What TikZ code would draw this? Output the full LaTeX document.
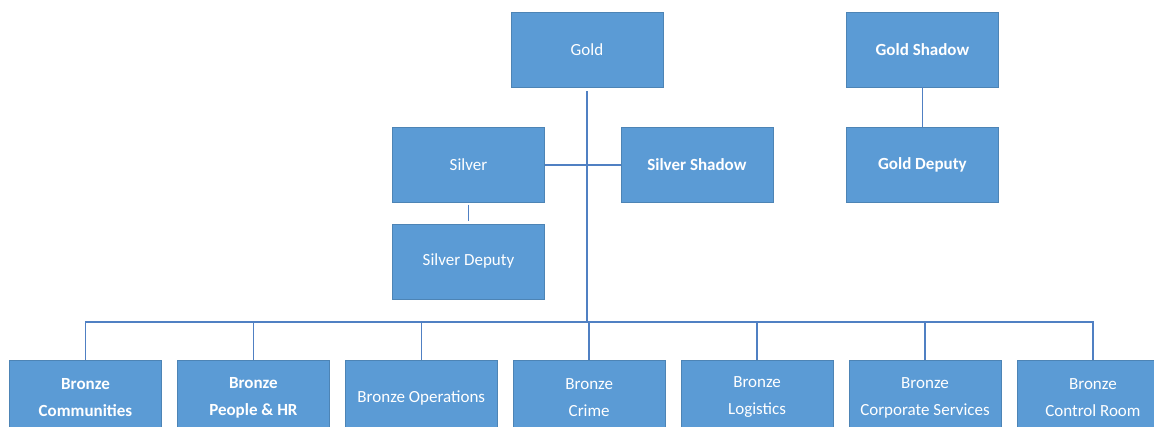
\documentclass[tikz,border=0pt]{standalone}
\usepackage{fontspec}
\setmainfont{Carlito}
\usepackage{tikz}
\usetikzlibrary{positioning}

\definecolor{boxblue}{RGB}{91,155,213}
\definecolor{lineblue}{RGB}{80,128,195}

\begin{document}
\begin{tikzpicture}[x=1pt,y=1pt]
	\tikzstyle{block} = [fill=boxblue, draw=boxblue!85!black, line width=0.4pt, rectangle, text=white, align=center, minimum height=75pt, minimum width=152pt, inner sep=2pt, font=\fontsize{17}{27}\selectfont]
	\tikzstyle{link} = [draw=lineblue, line width=1.6pt]
	
	\useasboundingbox (0,0) rectangle (1154,-427);
	
	\node [block] at (587,-49.5) (gold) {Gold};
	\node [block, right = 183pt of gold, font=\fontsize{17}{27}\selectfont\bfseries] (goldshadow) {Gold Shadow};
	\node [block, below = 40pt of goldshadow, font=\fontsize{17}{27}\selectfont\bfseries] (golddeputy) {Gold Deputy};
	
	\node [block] at (468.5,-165) (silver) {Silver};
	\node [block, right = 76pt of silver, font=\fontsize{17}{27}\selectfont\bfseries] (silvershadow) {Silver Shadow};
	\node [block, below = 21pt of silver] (silverdeputy) {Silver Deputy};
	
	\node [coordinate] at (587,-322) (bus) {};
	
	\node [block, font=\fontsize{17}{27}\selectfont\bfseries] at (85.5,-397.5) (bcomm) {Bronze\\Communities};
	\node [block, right = 15.5pt of bcomm, font=\fontsize{17}{27}\selectfont\bfseries] (bpeople) {Bronze\\People \& HR};
	\node [block, right = 15.5pt of bpeople] (bops) {Bronze Operations};
	\node [block, right = 15.5pt of bops] (bcrime) {Bronze\\Crime};
	\node [block, right = 15.5pt of bcrime] (blog) {Bronze\\Logistics};
	\node [block, right = 15.5pt of blog] (bcorp) {Bronze\\Corporate Services};
	\node [block, right = 15.5pt of bcorp] (bcontrol) {Bronze\\Control Room};
	
	\draw [link, shorten <=4pt] (gold) -- (bus);
	\draw [link] (silver) -- (silvershadow);
	\draw [link, shorten <=2pt, shorten >=3pt] (silver) -- (silverdeputy);
	\draw [link] (goldshadow) -- (golddeputy);
	\draw [link] (bus) -| (bcomm.north);
	\draw [link] (bus) -| (bpeople.north);
	\draw [link] (bus) -| (bops.north);
	\draw [link] (bus) -| (bcrime.north);
	\draw [link] (bus) -| (blog.north);
	\draw [link] (bus) -| (bcorp.north);
	\draw [link] (bus) -| (bcontrol.north);
\end{tikzpicture}
\end{document}
